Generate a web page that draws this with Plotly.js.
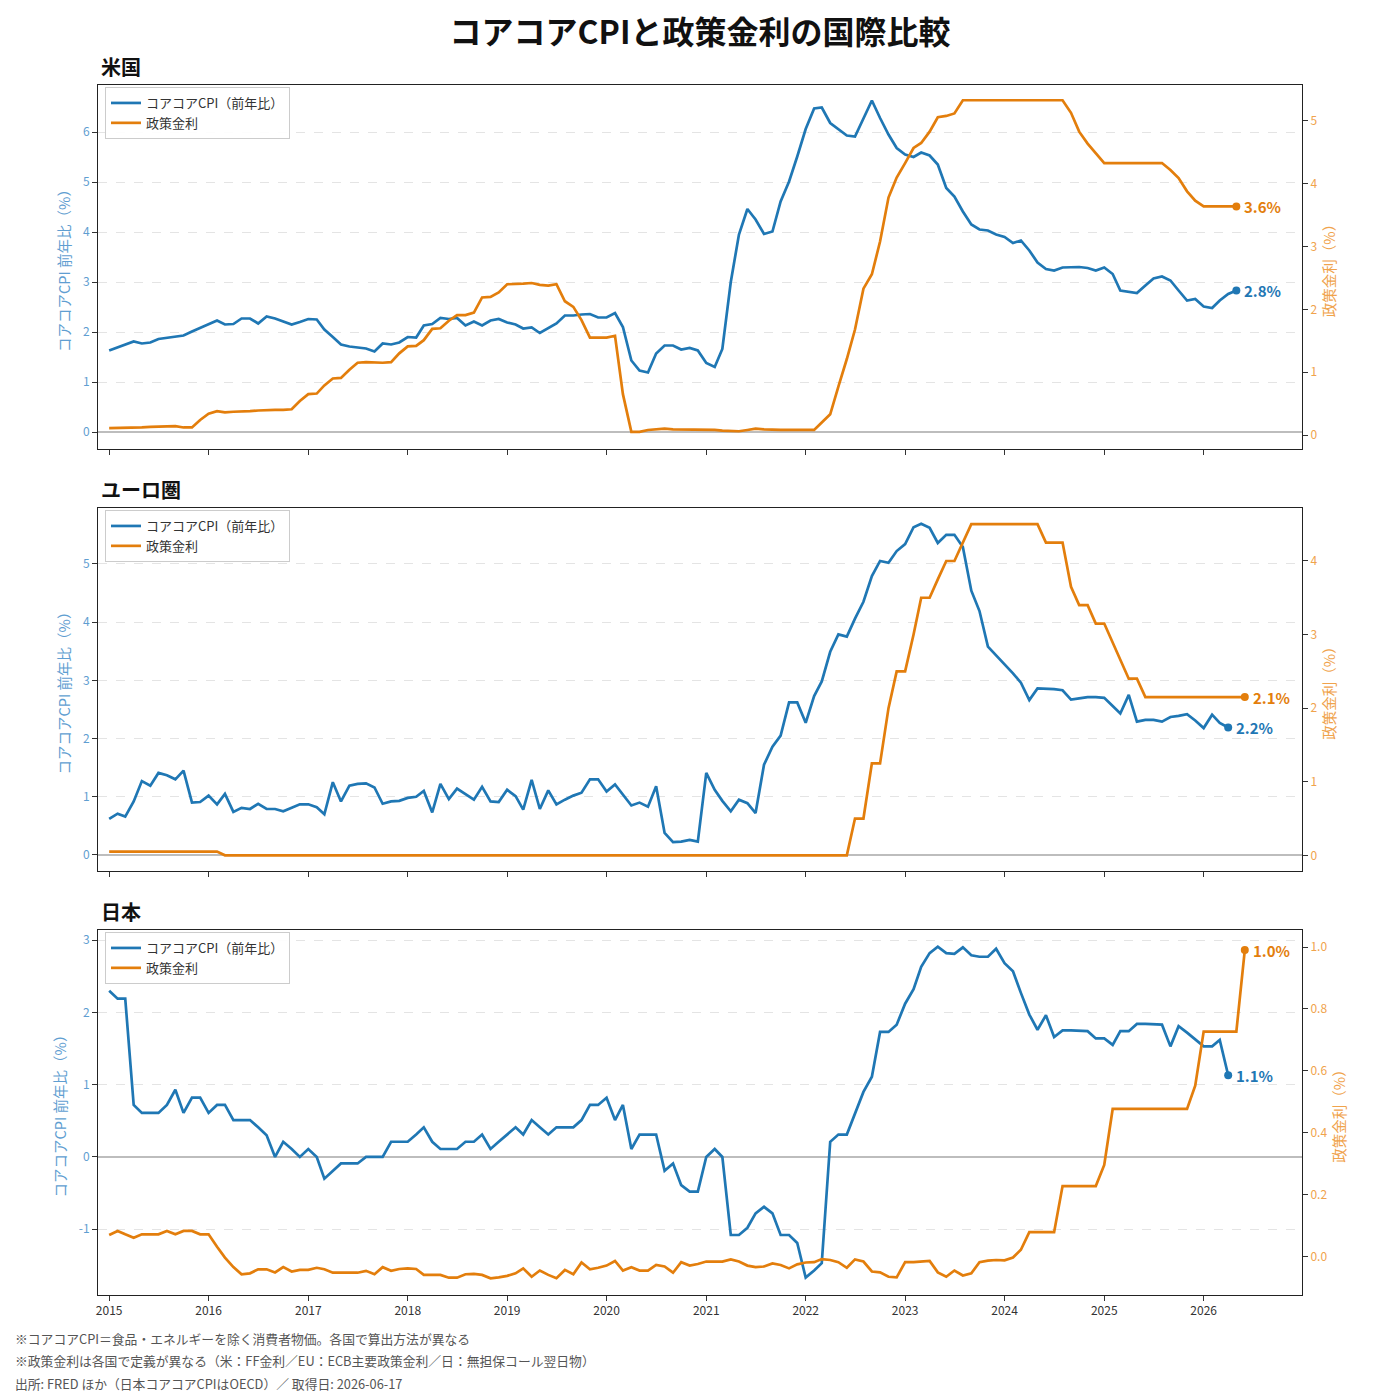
<!DOCTYPE html>
<html>
<head>
<meta charset="utf-8">
<script src="https://cdn.plot.ly/plotly-3.0.1.min.js"></script>
<style>
  body { margin: 0; background: #fff; }
  #chart { width: 1400px; height: 1400px; }
</style>
</head>
<body>
<div id="chart"></div>
<script>
// Monthly series, first point = 2015-01. One row per year.
const us_cpi = [
  1.63, 1.69, 1.75, 1.81, 1.77, 1.79, 1.86, 1.88, 1.91, 1.93, 2.01, 2.08,
  2.15, 2.23, 2.15, 2.16, 2.27, 2.27, 2.17, 2.31, 2.27, 2.21, 2.15, 2.20,
  2.26, 2.25, 2.05, 1.90, 1.75, 1.71, 1.69, 1.67, 1.61, 1.77, 1.75, 1.79,
  1.90, 1.89, 2.13, 2.16, 2.28, 2.26, 2.28, 2.13, 2.21, 2.13, 2.23, 2.26,
  2.19, 2.15, 2.07, 2.09, 1.98, 2.08, 2.17, 2.33, 2.33, 2.35, 2.36, 2.29,
  2.29, 2.38, 2.10, 1.43, 1.23, 1.19, 1.57, 1.73, 1.73, 1.65, 1.68, 1.63,
  1.38, 1.30, 1.66, 3.00, 3.95, 4.46, 4.25, 3.96, 4.01, 4.61, 5.01, 5.51,
  6.06, 6.47, 6.49, 6.18, 6.05, 5.93, 5.91, 6.28, 6.63, 6.28, 5.95, 5.68,
  5.55, 5.50, 5.59, 5.53, 5.35, 4.88, 4.71, 4.41, 4.15, 4.05, 4.03, 3.95,
  3.90, 3.78, 3.83, 3.63, 3.39, 3.26, 3.23, 3.29, 3.29, 3.30, 3.28, 3.23,
  3.29, 3.16, 2.83, 2.80, 2.78, 2.93, 3.07, 3.11, 3.03, 2.83, 2.63, 2.66,
  2.51, 2.48, 2.63, 2.76, 2.83
];
const us_rate = [
  0.11, 0.11, 0.11, 0.12, 0.12, 0.13, 0.13, 0.14, 0.14, 0.12, 0.12, 0.24,
  0.34, 0.38, 0.36, 0.37, 0.37, 0.38, 0.39, 0.40, 0.40, 0.40, 0.41, 0.54,
  0.65, 0.66, 0.79, 0.90, 0.91, 1.04, 1.15, 1.16, 1.15, 1.15, 1.16, 1.30,
  1.41, 1.42, 1.51, 1.69, 1.70, 1.82, 1.91, 1.91, 1.95, 2.19, 2.20, 2.27,
  2.40, 2.40, 2.41, 2.42, 2.39, 2.38, 2.40, 2.13, 2.04, 1.83, 1.55, 1.55,
  1.55, 1.58, 0.65, 0.05, 0.05, 0.08, 0.09, 0.10, 0.09, 0.09, 0.09, 0.09,
  0.09, 0.08, 0.07, 0.07, 0.06, 0.08, 0.10, 0.09, 0.08, 0.08, 0.08, 0.08,
  0.08, 0.08, 0.20, 0.33, 0.77, 1.21, 1.68, 2.33, 2.56, 3.08, 3.78, 4.10,
  4.33, 4.57, 4.65, 4.83, 5.06, 5.08, 5.12, 5.33, 5.33, 5.33, 5.33, 5.33,
  5.33, 5.33, 5.33, 5.33, 5.33, 5.33, 5.33, 5.33, 5.13, 4.83, 4.64, 4.48,
  4.33, 4.33, 4.33, 4.33, 4.33, 4.33, 4.33, 4.33, 4.22, 4.09, 3.88, 3.73,
  3.64, 3.64, 3.64, 3.64, 3.64
];
const eu_cpi = [
  0.62, 0.71, 0.66, 0.92, 1.27, 1.19, 1.41, 1.37, 1.30, 1.45, 0.90, 0.91,
  1.02, 0.87, 1.05, 0.74, 0.81, 0.79, 0.88, 0.79, 0.79, 0.75, 0.81, 0.87,
  0.87, 0.82, 0.70, 1.25, 0.92, 1.19, 1.22, 1.23, 1.16, 0.88, 0.92, 0.93,
  0.98, 1.00, 1.10, 0.73, 1.22, 0.96, 1.14, 1.05, 0.95, 1.17, 0.92, 0.91,
  1.12, 1.01, 0.78, 1.29, 0.79, 1.11, 0.87, 0.95, 1.02, 1.07, 1.30, 1.30,
  1.09, 1.21, 1.03, 0.85, 0.90, 0.83, 1.18, 0.38, 0.22, 0.23, 0.26, 0.23,
  1.41, 1.12, 0.93, 0.75, 0.95, 0.89, 0.72, 1.55, 1.86, 2.05, 2.62, 2.62,
  2.27, 2.73, 2.98, 3.49, 3.79, 3.75, 4.06, 4.35, 4.79, 5.05, 5.02, 5.22,
  5.34, 5.63, 5.69, 5.62, 5.36, 5.50, 5.50, 5.29, 4.54, 4.19, 3.58, 3.43,
  3.28, 3.12, 2.96, 2.66, 2.86, 2.86, 2.85, 2.83, 2.67, 2.69, 2.71, 2.71,
  2.70, 2.56, 2.43, 2.75, 2.29, 2.32, 2.32, 2.29, 2.37, 2.39, 2.42, 2.31,
  2.18, 2.41, 2.27, 2.19
];
const eu_rate = [
  0.05, 0.05, 0.05, 0.05, 0.05, 0.05, 0.05, 0.05, 0.05, 0.05, 0.05, 0.05,
  0.05, 0.05, 0, 0, 0, 0, 0, 0, 0, 0, 0, 0,
  0, 0, 0, 0, 0, 0, 0, 0, 0, 0, 0, 0,
  0, 0, 0, 0, 0, 0, 0, 0, 0, 0, 0, 0,
  0, 0, 0, 0, 0, 0, 0, 0, 0, 0, 0, 0,
  0, 0, 0, 0, 0, 0, 0, 0, 0, 0, 0, 0,
  0, 0, 0, 0, 0, 0, 0, 0, 0, 0, 0, 0,
  0, 0, 0, 0, 0, 0, 0.5, 0.5, 1.25, 1.25, 2.0, 2.5,
  2.5, 3.0, 3.5, 3.5, 3.75, 4.0, 4.0, 4.25, 4.5, 4.5, 4.5, 4.5,
  4.5, 4.5, 4.5, 4.5, 4.5, 4.25, 4.25, 4.25, 3.65, 3.4, 3.4, 3.15,
  3.15, 2.9, 2.65, 2.4, 2.4, 2.15, 2.15, 2.15, 2.15, 2.15, 2.15, 2.15,
  2.15, 2.15, 2.15, 2.15, 2.15, 2.15
];
const jp_cpi = [
  2.30, 2.19, 2.19, 0.72, 0.61, 0.61, 0.61, 0.72, 0.93, 0.61, 0.82, 0.82,
  0.61, 0.72, 0.72, 0.51, 0.51, 0.51, 0.41, 0.30, 0.00, 0.21, 0.11, 0.00,
  0.11, 0.00, -0.30, -0.19, -0.09, -0.09, -0.09, 0.00, 0.00, 0.00, 0.21, 0.21,
  0.21, 0.31, 0.41, 0.21, 0.11, 0.11, 0.11, 0.21, 0.21, 0.31, 0.11, 0.21,
  0.31, 0.41, 0.31, 0.51, 0.41, 0.31, 0.41, 0.41, 0.41, 0.51, 0.72, 0.72,
  0.82, 0.51, 0.72, 0.11, 0.31, 0.31, 0.31, -0.19, -0.09, -0.39, -0.48, -0.48,
  0.00, 0.11, 0.00, -1.08, -1.08, -0.98, -0.78, -0.69, -0.78, -1.08, -1.08, -1.19,
  -1.67, -1.57, -1.47, 0.21, 0.31, 0.31, 0.60, 0.90, 1.11, 1.73, 1.73, 1.83,
  2.12, 2.32, 2.63, 2.82, 2.91, 2.82, 2.81, 2.90, 2.79, 2.77, 2.77, 2.88,
  2.68, 2.57, 2.27, 1.97, 1.76, 1.96, 1.66, 1.75, 1.75, 1.74, 1.74, 1.64,
  1.64, 1.55, 1.74, 1.74, 1.84, 1.84, 1.84, 1.83, 1.53, 1.81, 1.72, 1.62,
  1.53, 1.53, 1.62, 1.13
];
const jp_rate = [
  0.070, 0.083, 0.072, 0.061, 0.072, 0.072, 0.072, 0.083, 0.072, 0.083, 0.083, 0.072,
  0.072, 0.032, -0.003, -0.034, -0.057, -0.054, -0.041, -0.041, -0.051, -0.034, -0.048, -0.043,
  -0.043, -0.036, -0.041, -0.052, -0.052, -0.054, -0.052, -0.046, -0.057, -0.034, -0.046, -0.040,
  -0.038, -0.040, -0.059, -0.059, -0.059, -0.068, -0.068, -0.057, -0.056, -0.059, -0.070, -0.067,
  -0.062, -0.054, -0.038, -0.065, -0.045, -0.059, -0.070, -0.043, -0.057, -0.019, -0.041, -0.036,
  -0.029, -0.014, -0.045, -0.034, -0.045, -0.045, -0.027, -0.032, -0.052, -0.018, -0.029, -0.024,
  -0.016, -0.016, -0.016, -0.009, -0.016, -0.029, -0.034, -0.032, -0.022, -0.027, -0.038, -0.025,
  -0.019, -0.018, -0.008, -0.011, -0.018, -0.036, -0.009, -0.016, -0.048, -0.051, -0.065, -0.067,
  -0.018, -0.018, -0.016, -0.014, -0.051, -0.065, -0.045, -0.061, -0.054, -0.018, -0.013, -0.011,
  -0.012, -0.003, 0.022, 0.079, 0.079, 0.079, 0.079, 0.228, 0.228, 0.228, 0.228, 0.228,
  0.296, 0.477, 0.477, 0.477, 0.477, 0.477, 0.477, 0.477, 0.477, 0.477, 0.477, 0.552,
  0.727, 0.727, 0.727, 0.727, 0.727, 0.99
];

const panel_names = ['米国', 'ユーロ圏', '日本'];
const series_names = ['コアコアCPI（前年比）', '政策金利'];
const year_ticks = [2015, 2016, 2017, 2018, 2019, 2020, 2021, 2022, 2023, 2024, 2025, 2026];
// Japan's CPI axis goes below zero; matplotlib-style hyphen labels
const jp_cpi_ticks = [-1, 0, 1, 2, 3];
const jp_cpi_ticktext = ['-1', '0', '1', '2', '3'];
const footnotes = [
  '※コアコアCPI＝食品・エネルギーを除く消費者物価。各国で算出方法が異なる',
  '※政策金利は各国で定義が異なる（米：FF金利／EU：ECB主要政策金利／日：無担保コール翌日物）',
  '出所: FRED ほか（日本コアコアCPIはOECD）／ 取得日: 2026-06-17'
];

const BLUE = '#1f77b4';
const ORANGE = '#e37e0c';
const BLUE_SOFT = '#5f9ed1';
const ORANGE_SOFT = '#f0a34c';
const FONT = '"Noto Sans CJK JP", "Noto Sans", sans-serif';

// Page geometry in pixels, converted to paper coordinates
const W = 1400, H = 1400;
const M = { l: 98, r: 98, t: 85, b: 105 };
const plot_w = W - M.l - M.r;
const plot_h = H - M.t - M.b;
const fx = (px) => (px - M.l) / plot_w;
const fy = (py) => (H - M.b - py) / plot_h;

/**
 * First-of-month date strings starting at 2015-01.
 * @param {number} n How many months.
 */
function month_dates(n) {
  const out = [];
  for (let i = 0; i < n; i++) {
    const y = 2015 + Math.floor(i / 12);
    const m = (i % 12) + 1;
    out.push(y + '-' + String(m).padStart(2, '0') + '-01');
  }
  return out;
}

// Per-panel placement and axis setup (pixels top/bottom of the plot box)
const panels = [
  { cpi: us_cpi, rate: us_rate, top: 85, bottom: 449,
    cpi_range: [-0.34, 6.94], rate_range: [-0.223, 5.573], rate_dtick: 1, rate_fmt: '' },
  { cpi: eu_cpi, rate: eu_rate, top: 508, bottom: 871,
    cpi_range: [-0.275, 5.96], rate_range: [-0.213, 4.72], rate_dtick: 1, rate_fmt: '' },
  { cpi: jp_cpi, rate: jp_rate, top: 930, bottom: 1295,
    cpi_range: [-1.91, 3.14], rate_range: [-0.124, 1.055], rate_dtick: 0.2, rate_fmt: '.1f',
    cpi_tickvals: jp_cpi_ticks, cpi_ticktext: jp_cpi_ticktext },
];

const x_range = ['2014-11-21', '2026-12-28'];
const tick_vals = year_ticks.map((y) => y + '-01-01');

var chart_data = [];
var annotations = [];
var layout = {
  width: W,
  height: H,
  margin: M,
  paper_bgcolor: '#ffffff',
  plot_bgcolor: '#ffffff',
  font: { family: FONT, size: 12, color: '#333' },
  title: {
    text: 'コアコアCPIと政策金利の国際比較',
    font: { family: FONT, size: 32, color: '#111', weight: 700 },
    x: 0.5,
    xanchor: 'center',
    yref: 'container',
    y: 1 - 33 / H,
    yanchor: 'middle',
  },
  showlegend: true,
};

panels.forEach((p, i) => {
  const xid = i == 0 ? 'x' : 'x' + (i + 1);
  const yl = i == 0 ? 'y' : 'y' + (2 * i + 1);
  const yr = 'y' + (2 * i + 2);
  const legend_id = i == 0 ? 'legend' : 'legend' + (i + 1);
  const cpi_x = month_dates(p.cpi.length);
  const rate_x = month_dates(p.rate.length);
  const domain = [fy(p.bottom), fy(p.top)];

  chart_data.push({
    x: cpi_x, y: p.cpi, xaxis: xid, yaxis: yl,
    name: series_names[0], legend: legend_id,
    type: 'scatter', mode: 'lines',
    line: { color: BLUE, width: 2.7 },
  });
  chart_data.push({
    x: rate_x, y: p.rate, xaxis: xid, yaxis: yr,
    name: series_names[1], legend: legend_id,
    type: 'scatter', mode: 'lines',
    line: { color: ORANGE, width: 2.7 },
  });
  // Dots on the latest values
  chart_data.push({
    x: [cpi_x[cpi_x.length - 1]], y: [p.cpi[p.cpi.length - 1]],
    xaxis: xid, yaxis: yl, showlegend: false, legend: legend_id,
    type: 'scatter', mode: 'markers', marker: { color: BLUE, size: 8 },
  });
  chart_data.push({
    x: [rate_x[rate_x.length - 1]], y: [p.rate[p.rate.length - 1]],
    xaxis: xid, yaxis: yr, showlegend: false, legend: legend_id,
    type: 'scatter', mode: 'markers', marker: { color: ORANGE, size: 8 },
  });

  annotations.push({
    xref: xid, yref: yl,
    x: cpi_x[cpi_x.length - 1], y: p.cpi[p.cpi.length - 1],
    text: p.cpi[p.cpi.length - 1].toFixed(1) + '%',
    showarrow: false, xanchor: 'left', xshift: 6, yanchor: 'middle',
    font: { family: FONT, size: 15, color: BLUE, weight: 700 },
  });
  annotations.push({
    xref: xid, yref: yr,
    x: rate_x[rate_x.length - 1], y: p.rate[p.rate.length - 1],
    text: p.rate[p.rate.length - 1].toFixed(1) + '%',
    showarrow: false, xanchor: 'left', xshift: 6, yanchor: 'middle',
    font: { family: FONT, size: 15, color: ORANGE, weight: 700 },
  });
  // Panel heading
  annotations.push({
    xref: 'paper', yref: 'paper',
    x: fx(99), y: fy(p.top - 19),
    text: panel_names[i],
    showarrow: false, xanchor: 'left', yanchor: 'middle',
    font: { family: FONT, size: 20, color: '#111', weight: 700 },
  });

  layout['xaxis' + (i == 0 ? '' : i + 1)] = {
    type: 'date',
    range: x_range,
    anchor: yl,
    tickvals: tick_vals,
    ticktext: year_ticks.map(String),
    showticklabels: i == 2,
    ticks: 'outside',
    ticklen: 5,
    tickcolor: '#333',
    tickfont: { size: 12, color: '#333' },
    showgrid: false,
    zeroline: false,
    showline: true,
    mirror: true,
    linecolor: '#222',
    linewidth: 1,
  };
  const left_axis = {
    domain: domain,
    anchor: xid,
    range: p.cpi_range,
    dtick: 1,
    ticks: 'outside',
    ticklen: 5,
    tickcolor: '#333',
    tickfont: { size: 12, color: BLUE_SOFT },
    title: {
      text: 'コアコアCPI 前年比（%）',
      font: { size: 14.5, color: BLUE_SOFT },
      standoff: 8,
    },
    showgrid: true,
    gridcolor: '#e4e4e4',
    griddash: 'dash',
    gridwidth: 1,
    zeroline: true,
    zerolinecolor: '#bdbdbd',
    zerolinewidth: 1.2,
    showline: true,
    mirror: true,
    linecolor: '#222',
    linewidth: 1,
  };
  if (p.cpi_tickvals) {
    left_axis.tickmode = 'array';
    left_axis.tickvals = p.cpi_tickvals;
    left_axis.ticktext = p.cpi_ticktext;
  }
  layout['yaxis' + (2 * i + 1 == 1 ? '' : 2 * i + 1)] = left_axis;
  layout['yaxis' + (2 * i + 2)] = {
    domain: domain,
    anchor: xid,
    overlaying: yl,
    side: 'right',
    range: p.rate_range,
    dtick: p.rate_dtick,
    tickformat: p.rate_fmt,
    ticks: 'outside',
    ticklen: 5,
    tickcolor: '#333',
    tickfont: { size: 12, color: ORANGE_SOFT },
    title: {
      text: '政策金利（%）',
      font: { size: 14.5, color: ORANGE_SOFT },
      standoff: 8,
    },
    showgrid: false,
    zeroline: false,
    showline: false,
  };
  layout[legend_id] = {
    x: fx(105),
    y: fy(p.top + 2),
    xref: 'paper',
    yref: 'paper',
    xanchor: 'left',
    yanchor: 'top',
    bgcolor: 'rgba(255,255,255,0.9)',
    bordercolor: '#cccccc',
    borderwidth: 1,
    font: { family: FONT, size: 13, color: '#333' },
    tracegroupgap: 0,
  };
});

footnotes.forEach((t, k) => {
  annotations.push({
    xref: 'paper', yref: 'paper',
    x: fx(13), y: fy(1338 + 22.5 * k),
    text: t,
    showarrow: false, xanchor: 'left', yanchor: 'middle',
    font: { family: FONT, size: 12.8, color: '#555' },
  });
});

layout.annotations = annotations;

Plotly.newPlot('chart', chart_data, layout, { displayModeBar: false, staticPlot: true });
</script>
</body>
</html>
